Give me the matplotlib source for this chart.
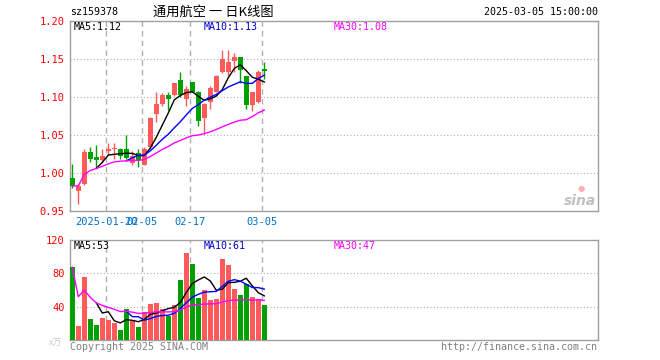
import matplotlib
matplotlib.use('Agg')
import matplotlib.pyplot as plt
import pandas as pd

dates = ['01-10', '01-13', '01-14', '01-15', '01-16', '01-17', '01-20', '01-21', '01-22', '01-23',
         '01-24', '01-27', '02-05', '02-06', '02-07', '02-10', '02-11', '02-12', '02-13', '02-14',
         '02-17', '02-18', '02-19', '02-20', '02-21', '02-24', '02-25', '02-26', '02-27', '02-28',
         '03-03', '03-04', '03-05']
opens = [0.994, 0.976, 0.985, 1.028, 1.021, 1.017, 1.029, 1.032, 1.032, 1.032,
         1.013, 1.026, 1.011, 1.034, 1.077, 1.091, 1.102, 1.102, 1.122, 1.098,
         1.120, 1.107, 1.072, 1.093, 1.106, 1.133, 1.133, 1.147, 1.152, 1.127,
         1.089, 1.094, 1.137]
highs = [1.012, 0.986, 1.031, 1.034, 1.037, 1.032, 1.040, 1.040, 1.033, 1.050,
         1.029, 1.032, 1.034, 1.074, 1.107, 1.105, 1.107, 1.119, 1.133, 1.115,
         1.120, 1.108, 1.092, 1.114, 1.129, 1.162, 1.162, 1.158, 1.153, 1.127,
         1.107, 1.135, 1.146]
lows = [0.980, 0.959, 0.984, 1.014, 1.007, 1.013, 1.024, 1.019, 1.018, 1.018,
        1.011, 1.008, 1.010, 1.031, 1.067, 1.088, 1.083, 1.101, 1.100, 1.088,
        1.106, 1.062, 1.051, 1.084, 1.106, 1.131, 1.128, 1.133, 1.118, 1.084,
        1.081, 1.092, 1.124]
closes = [0.983, 0.983, 1.028, 1.019, 1.017, 1.023, 1.031, 1.033, 1.023, 1.020,
          1.022, 1.017, 1.032, 1.073, 1.091, 1.102, 1.097, 1.118, 1.102, 1.110,
          1.107, 1.068, 1.091, 1.112, 1.128, 1.150, 1.146, 1.152, 1.136, 1.089,
          1.107, 1.133, 1.134]
volumes = [87.2, 16.8, 75.2, 25.2, 18.0, 26.8, 24.4, 20.8, 12.6, 37.2,
           23.2, 16.0, 34.0, 43.6, 44.8, 36.8, 29.2, 42.0, 72.0, 105.0,
           90.8, 50.4, 60.0, 48.0, 49.2, 97.0, 90.4, 61.2, 54.5, 67.5,
           51.5, 49.2, 42.0]
date_tick_idx = [6, 12, 20, 32]
date_tick_labels = ['2025-01-20', '02-05', '02-17', '03-05']
price_ticks = [0.95, 1.00, 1.05, 1.10, 1.15, 1.20]
price_tick_labels = ['0.95', '1.00', '1.05', '1.10', '1.15', '1.20']
vol_ticks = [40, 80, 120]
vol_tick_labels = ['40', '80', '120']

RED = '#ff5a5a'
GREEN = '#00a000'
FRAME = '#a0a0a0'
GRID = '#b0b0b0'
BLUE_TXT = '#0070c8'
MONO = 'DejaVu Sans Mono'
FS = 7.2

W, H = 660, 360
fig = plt.figure(figsize=(W / 100, H / 100), dpi=100)
fig.patch.set_facecolor('white')


def ax_rect(left, top, right, bottom):
    return [left / W, 1 - bottom / H, (right - left) / W, (bottom - top) / H]


ax = fig.add_axes(ax_rect(70, 21, 598, 211))
axv = fig.add_axes(ax_rect(70, 240, 598, 340))

n = len(closes)
xs = list(range(n))
cl = pd.Series(closes)
vs = pd.Series(volumes)
ma5 = cl.rolling(5).mean()
ma10 = cl.rolling(10).mean()
ma30 = cl.rolling(30, min_periods=1).mean()
vma5 = vs.rolling(5).mean()
vma10 = vs.rolling(10).mean()
vma30 = vs.rolling(30, min_periods=1).mean()

XL = (-0.383, 87.617)
bw = 0.83

# candles
for i in xs:
    o, h, l, c = opens[i], highs[i], lows[i], closes[i]
    col = RED if c >= o else GREEN
    ax.vlines(i, l, h, color=col, lw=1.0, zorder=3)
    body = max(abs(c - o), 0.0008)
    ax.bar(i, body, bottom=min(o, c), width=bw, color=col, lw=0, zorder=3)
    axv.bar(i, volumes[i], width=bw, color=col, lw=0, zorder=3)

ax.plot(xs, ma5, color='black', lw=1.0, zorder=4)
ax.plot(xs, ma10, color='#0000ff', lw=1.0, zorder=4)
ax.plot(xs, ma30, color='#ff00ff', lw=1.0, zorder=4)
axv.plot(xs, vma5, color='black', lw=1.0, zorder=4)
axv.plot(xs, vma10, color='#0000ff', lw=1.0, zorder=4)
axv.plot(xs, vma30, color='#ff00ff', lw=1.0, zorder=4)

for a in (ax, axv):
    a.set_xlim(*XL)
    for s in a.spines.values():
        s.set_color(FRAME)
        s.set_linewidth(1.0)
    a.tick_params(length=0)
    for i in date_tick_idx:
        a.axvline(i - 0.33, color=GRID, lw=1.0, ls=(0, (4, 3)), zorder=1)

ax.set_ylim(0.95, 1.20)
ax.set_yticks(price_ticks)
ax.set_yticklabels(price_tick_labels, color='#ff0000', fontsize=FS + 0.3, family=MONO)
ax.tick_params(axis='y', pad=4)
for p in price_ticks[1:-1]:
    ax.axhline(p, color=GRID, lw=0.8, ls=(0, (1, 2)), zorder=1)
ax.set_xticks([i - 0.33 for i in date_tick_idx])
ax.set_xticklabels(date_tick_labels, color=BLUE_TXT, fontsize=FS + 0.3, family=MONO)
ax.tick_params(axis='x', pad=4)

axv.set_ylim(0, 120)
axv.set_yticks(vol_ticks)
axv.set_yticklabels(vol_tick_labels, color='#ff0000', fontsize=FS + 0.3, family=MONO)
axv.tick_params(axis='y', pad=4)
axv.set_xticks([])
for v in vol_ticks[:-1]:
    axv.axhline(v, color=GRID, lw=0.8, ls=(0, (1, 2)), zorder=1)


def ftext(x, y, s, **kw):
    fig.text(x / W, 1 - y / H, s, **kw)


ftext(70, 12, 'sz159378', fontsize=FS, family=MONO, va='center', ha='left', color='black')
ftext(213, 12, '通用航空 一 日K线图', fontsize=9.5,
      family=['Noto Sans CJK SC', 'DejaVu Sans'], va='center', ha='center', color='black')
ftext(598, 12, '2025-03-05 15:00:00', fontsize=FS, family=MONO, va='center', ha='right',
      color='black')

ftext(74, 27, 'MA5:%.2f' % ma5.iloc[-1], fontsize=FS, family=MONO, va='center', color='black')
ftext(204, 27, 'MA10:%.2f' % ma10.iloc[-1], fontsize=FS, family=MONO, va='center', color='#0000cc')
ftext(334, 27, 'MA30:%.2f' % ma30.iloc[-1], fontsize=FS, family=MONO, va='center', color='#ff00ff')

ftext(74, 246, 'MA5:%d' % round(vma5.iloc[-1]), fontsize=FS, family=MONO, va='center', color='black')
ftext(204, 246, 'MA10:%d' % round(vma10.iloc[-1]), fontsize=FS, family=MONO, va='center',
      color='#0000cc')
ftext(334, 246, 'MA30:%d' % round(vma30.iloc[-1]), fontsize=FS, family=MONO, va='center',
      color='#ff00ff')

ftext(70, 347, 'Copyright 2025 SINA.COM', fontsize=FS, family=MONO, va='center', color='#808080')
ftext(597, 347, 'http://finance.sina.com.cn', fontsize=FS, family=MONO, va='center', ha='right',
      color='#808080')
ftext(49, 343, 'x万', fontsize=6.5, family=['Noto Sans CJK SC', 'DejaVu Sans'], va='center',
      color='#c8c8c8')

ftext(596, 201, 'sina', fontsize=10, style='italic', weight='bold', family='DejaVu Sans',
      va='center', ha='right', color='#c0c0c0')
ftext(581, 189, '●', fontsize=6, family='DejaVu Sans', va='center', ha='center', color='#ffb0b0')

fig.savefig('out.png', dpi=100, facecolor='white')
